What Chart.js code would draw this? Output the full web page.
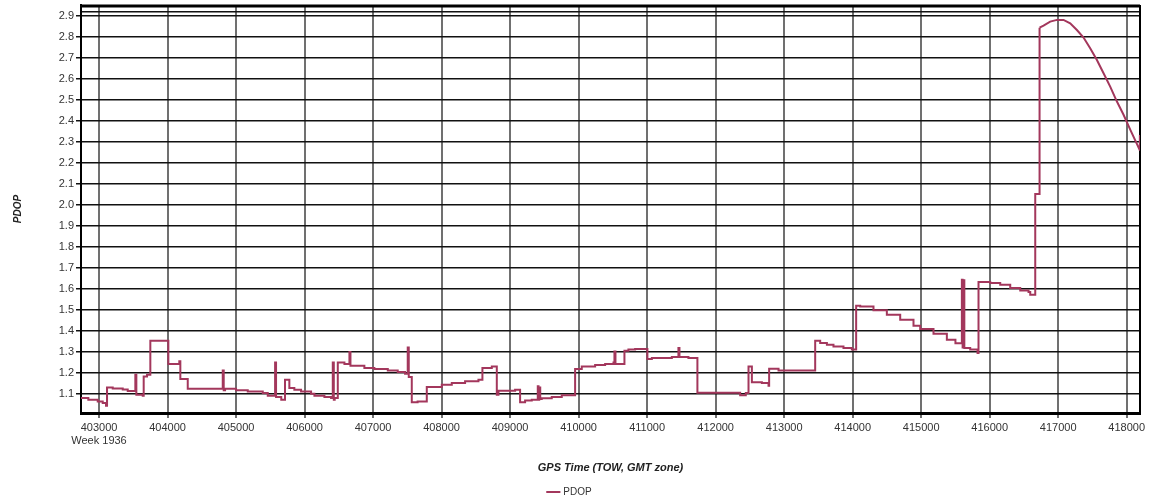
<!DOCTYPE html>
<html>
<head>
<meta charset="utf-8">
<title>PDOP</title>
<script src="https://cdn.jsdelivr.net/npm/chart.js@4"></script>
<style>
  html, body { margin: 0; padding: 0; background: #fff; }
</style>
</head>
<body>
<canvas id="pdopChart" width="1151" height="502"></canvas>
<script>
// GPS time of week (s) and PDOP
// stepped part: each value holds until the next time
const towSteps = [
  402700, 402844, 402981, 403054, 403102, 403117, 403200, 403346, 403419, 403530,
  403545, 403638, 403652, 403701, 403749, 404012, 404172, 404187, 404295, 404806,
  404820, 404840, 405000, 405171, 405390, 405463, 405570, 405584, 405660, 405715,
  405778, 405851, 405949, 406095, 406144, 406290, 406387, 406412, 406427, 406440,
  406485, 406582, 406655, 406670, 406873, 407019, 407215, 407360, 407467, 407506,
  407521, 407565, 407650, 407784, 408003, 408149, 408343, 408538, 408596, 408733,
  408806, 408830, 409073, 409146, 409219, 409316, 409404, 409415, 409425, 409440,
  409462, 409608, 409754, 409949, 410046, 410241, 410387, 410509, 410523, 410538,
  410669, 410727, 410825, 411004, 411069, 411361, 411457, 411472, 411603, 411734,
  412358, 412440, 412480, 412529, 412675, 412772, 412781, 412918, 413453, 413526,
  413624, 413720, 413866, 413988, 414051, 414110, 414304, 414499, 414694, 414888,
  414986, 415180, 415375, 415500, 415594, 415605, 415615, 415630, 415716, 415823,
  415837, 416008, 416154, 416300, 416446, 416567, 416592, 416665, 416728
];
const pdopSteps = [
  1.080, 1.071, 1.063, 1.056, 1.043, 1.130, 1.125, 1.120, 1.113, 1.190,
  1.095, 1.090, 1.182, 1.190, 1.352, 1.241, 1.254, 1.170, 1.124, 1.211,
  1.116, 1.124, 1.116, 1.111, 1.103, 1.090, 1.249, 1.084, 1.071, 1.167,
  1.127, 1.119, 1.111, 1.100, 1.090, 1.084, 1.079, 1.249, 1.071, 1.079,
  1.249, 1.242, 1.299, 1.233, 1.222, 1.218, 1.210, 1.203, 1.195, 1.320,
  1.180, 1.059, 1.063, 1.132, 1.143, 1.151, 1.159, 1.167, 1.222, 1.230,
  1.095, 1.114, 1.119, 1.059, 1.067, 1.071, 1.135, 1.071, 1.130, 1.075,
  1.078, 1.084, 1.092, 1.218, 1.230, 1.237, 1.241, 1.249, 1.301, 1.241,
  1.305, 1.310, 1.313, 1.265, 1.270, 1.275, 1.318, 1.275, 1.270, 1.104,
  1.092, 1.103, 1.230, 1.154, 1.151, 1.138, 1.219, 1.210, 1.352, 1.341,
  1.333, 1.325, 1.318, 1.310, 1.519, 1.516, 1.497, 1.476, 1.452, 1.424,
  1.408, 1.386, 1.357, 1.340, 1.643, 1.320, 1.640, 1.318, 1.310, 1.294,
  1.632, 1.627, 1.619, 1.603, 1.592, 1.584, 1.571, 2.051, 2.844
];
// smooth part at the end of the session
const towCurve = [
  416728, 416786, 416883, 416981, 417078, 417175, 417273, 417370, 417467, 417565,
  417662, 417759, 417857, 417954, 418053, 418150, 418188, 418192
];
const pdopCurve = [
  2.844, 2.854, 2.873, 2.881, 2.881, 2.865, 2.833, 2.797, 2.746, 2.690,
  2.627, 2.563, 2.492, 2.429, 2.357, 2.289, 2.262, 2.333
];

const xTickValues = [403000, 404000, 405000, 406000, 407000, 408000, 409000, 410000,
  411000, 412000, 413000, 414000, 415000, 416000, 417000, 418000];
const yTickValues = [1.1, 1.2, 1.3, 1.4, 1.5, 1.6, 1.7, 1.8, 1.9, 2.0,
  2.1, 2.2, 2.3, 2.4, 2.5, 2.6, 2.7, 2.8, 2.9];
const weekLabel = "Week 1936";

const lineColor = '#a3375c';
const fontFamily = "'Liberation Sans', Arial, sans-serif";

// black frame round the plot area
const framePlugin = {
  id: 'frame',
  beforeDatasetsDraw(chart) {
    const { ctx, chartArea: a } = chart;
    ctx.save();
    ctx.strokeStyle = '#000';
    ctx.lineWidth = 3;
    ctx.beginPath();
    ctx.moveTo(a.left, a.top + 1);
    ctx.lineTo(a.right, a.top + 1);
    ctx.stroke();
    ctx.lineWidth = 2;
    ctx.beginPath();
    ctx.moveTo(a.right, a.top);
    ctx.lineTo(a.right, a.bottom);
    ctx.stroke();
    ctx.restore();
  }
};

const ctx = document.getElementById("pdopChart").getContext("2d");
new Chart(ctx, {
  type: 'line',
  data: {
    datasets: [{
      label: 'PDOP',
      data: towSteps.map((t, i) => ({ x: t, y: pdopSteps[i] })),
      borderColor: lineColor,
      backgroundColor: lineColor,
      borderWidth: 2,
      pointRadius: 0,
      stepped: true,
      pointStyle: 'line'
    }, {
      label: 'PDOP curve',
      data: towCurve.map((t, i) => ({ x: t, y: pdopCurve[i] })),
      borderColor: lineColor,
      backgroundColor: lineColor,
      borderWidth: 2,
      pointRadius: 0,
      tension: 0
    }]
  },
  options: {
    responsive: false,
    animation: false,
    layout: { padding: { left: 0, right: 11, top: 5, bottom: -5 } },
    plugins: {
      legend: {
        position: 'bottom',
        labels: {
          usePointStyle: true,
          boxHeight: 10,
          padding: 8,
          color: '#333',
          font: { family: fontFamily, size: 10 },
          filter: item => item.datasetIndex === 0
        }
      },
      tooltip: { enabled: false }
    },
    scales: {
      x: {
        type: 'linear',
        min: 402737,
        max: 418194,
        afterBuildTicks: scale => { scale.ticks = xTickValues.map(v => ({ value: v })); },
        afterFit: scale => { scale.height = 66; scale.paddingLeft = 0; scale.paddingRight = 0; },
        ticks: {
          color: '#333',
          padding: 3,
          maxRotation: 0,
          font: { family: fontFamily, size: 11 },
          callback: v => v === xTickValues[0] ? [String(v), weekLabel] : String(v)
        },
        grid: { color: '#707070', lineWidth: 2, tickLength: 5, drawTicks: true },
        border: { color: '#000', width: 3 },
        title: {
          display: true,
          text: 'GPS Time (TOW, GMT zone)',
          color: '#222',
          padding: { top: 0, bottom: 4 },
          font: { family: fontFamily, size: 11, weight: 'bold', style: 'italic' }
        }
      },
      y: {
        min: 1.008,
        max: 2.952,
        afterBuildTicks: scale => {
          scale.ticks = yTickValues.map(v => ({ value: v })).concat([{ value: 2.92 }]);
        },
        afterFit: scale => { scale.width = 81; scale.paddingTop = 0; scale.paddingBottom = 0; },
        ticks: {
          color: '#333',
          padding: 2,
          font: { family: fontFamily, size: 11 },
          callback: v => (v > 2.91 && v < 2.93) ? '' : v.toFixed(1)
        },
        grid: {
          color: '#111',
          lineWidth: 1.5,
          tickLength: 5,
          tickColor: c => (c.tick && c.tick.value > 2.91) ? 'rgba(0,0,0,0)' : '#111'
        },
        border: { color: '#000', width: 2 },
        title: {
          display: true,
          text: 'PDOP',
          color: '#222',
          padding: { top: 12, bottom: 0 },
          font: { family: fontFamily, size: 10, weight: 'bold', style: 'italic' }
        }
      }
    }
  },
  plugins: [framePlugin]
});
</script>
</body>
</html>
